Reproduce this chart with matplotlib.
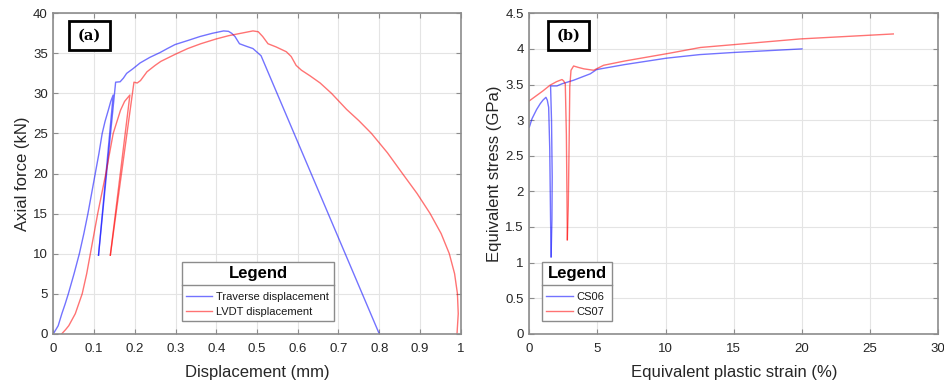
import matplotlib
matplotlib.use('Agg')
import matplotlib.pyplot as plt
from matplotlib.lines import Line2D

plt.rcParams['font.family'] = ['Liberation Sans', 'DejaVu Sans']

# (a) axial force vs displacement
trav_x = [0.0, 0.005, 0.012, 0.021, 0.029, 0.037, 0.051, 0.064, 0.075, 0.085, 0.094,
          0.103, 0.112, 0.120, 0.127, 0.135, 0.141, 0.147,
          0.111,
          0.153, 0.164, 0.172, 0.180, 0.196, 0.213, 0.237, 0.262, 0.28, 0.299, 0.33,
          0.36, 0.39, 0.418, 0.43, 0.438, 0.446, 0.457, 0.473, 0.49, 0.51, 0.8]
trav_f = [0.0, 0.4, 1.0, 2.5, 3.7, 5.0, 7.5, 10.0, 12.5, 15.0, 17.5,
          20.0, 22.5, 25.0, 26.5, 27.9, 29.0, 29.8,
          9.8,
          31.4, 31.45, 31.9, 32.5, 33.1, 33.8, 34.5, 35.1, 35.6, 36.1, 36.6,
          37.1, 37.5, 37.8, 37.75, 37.5, 37.1, 36.2, 35.9, 35.6, 34.7, 0.0]
trav_split = 18

lvdt_x = [0.021, 0.03, 0.038, 0.054, 0.071, 0.082, 0.091, 0.100, 0.109, 0.119,
          0.129, 0.138, 0.147, 0.165, 0.175, 0.188,
          0.14,
          0.198, 0.206, 0.214, 0.23, 0.25, 0.264, 0.3, 0.33, 0.362, 0.4, 0.43,
          0.46, 0.49, 0.503, 0.514, 0.527, 0.547, 0.572, 0.584, 0.596, 0.609,
          0.63, 0.655, 0.683, 0.72, 0.75, 0.781, 0.82, 0.857, 0.893, 0.925,
          0.952, 0.972, 0.985, 0.992, 0.994, 0.991]
lvdt_f = [0.0, 0.5, 1.0, 2.5, 5.0, 7.5, 10.0, 12.5, 15.0, 17.5,
          20.0, 22.5, 25.0, 27.9, 29.0, 29.8,
          9.8,
          31.4, 31.3, 31.6, 32.7, 33.5, 34.0, 34.9, 35.6, 36.2, 36.8, 37.2,
          37.5, 37.8, 37.7, 37.1, 36.2, 35.8, 35.2, 34.6, 33.5, 32.9,
          32.2, 31.3, 30.0, 28.0, 26.6, 25.0, 22.6, 20.0, 17.5, 15.0,
          12.5, 10.0, 7.5, 5.0, 2.5, 0.0]
lvdt_split = 16

# (b) equivalent stress vs equivalent plastic strain
cs06_x = [0.0, 0.2, 0.54, 0.8, 1.0, 1.22, 1.32, 1.42, 1.5, 1.56, 1.6,
          1.66, 1.68, 1.63, 1.56,
          1.8, 2.03, 2.4, 3.25, 4.47, 4.94, 7.0, 10.07, 12.5, 15.0, 20.0]
cs06_s = [2.9, 3.02, 3.15, 3.23, 3.28, 3.32, 3.28, 3.18, 2.6, 1.6, 1.08,
          1.6, 2.2, 3.0, 3.48,
          3.48, 3.48, 3.51, 3.56, 3.65, 3.71, 3.78, 3.87, 3.92, 3.95, 4.0]
cs06_split = 10

cs07_x = [0.0, 0.5, 1.0, 1.52, 2.0, 2.4, 2.52, 2.64, 2.72, 2.76, 2.79,
          2.86, 2.93, 2.97, 3.06, 3.25, 3.6, 4.0, 4.72, 5.45, 7.0, 10.3,
          12.55, 15.0, 19.87, 26.7]
cs07_s = [3.27, 3.34, 3.41, 3.49, 3.54, 3.57, 3.55, 3.51, 2.8, 2.0, 1.32,
          1.8, 2.8, 3.47, 3.70, 3.76, 3.74, 3.72, 3.70, 3.77, 3.83, 3.94,
          4.02, 4.06, 4.14, 4.21]
cs07_split = 10

blue = (0, 0, 1, 0.55)
red = (1, 0, 0, 0.55)
spine_c = '#8c8c8c'
text_c = '#262626'

fig = plt.figure(figsize=(9.45, 3.8), dpi=100)
ax1 = fig.add_axes([0.0564, 0.1218, 0.4311, 0.8432])
ax2 = fig.add_axes([0.5601, 0.1218, 0.4328, 0.8432])


def style(ax):
    ax.grid(True, color='#e4e4e4', linewidth=0.8)
    ax.set_axisbelow(True)
    for s in ax.spines.values():
        s.set_color(spine_c)
        s.set_linewidth(1.2)
    ax.tick_params(direction='in', length=3.5, width=0.8, color=spine_c,
                   labelcolor=text_c, labelsize=9.5, top=True, right=True)
    ax.tick_params(axis='x', pad=7)
    ax.tick_params(axis='y', pad=4)


def legend(ax, handles, labels, box):
    leg = ax.legend(handles, labels, loc='lower left', bbox_to_anchor=box,
                    mode='expand', borderaxespad=0, title='Legend',
                    title_fontproperties={'weight': 'bold', 'size': 12},
                    fontsize=8, frameon=True, fancybox=False, framealpha=1,
                    edgecolor=spine_c, handlelength=2.4, handletextpad=0.3,
                    labelspacing=0.45, borderpad=0.35)
    # more room between the title and the entries
    leg._legend_box.sep = 8
    leg.get_frame().set_linewidth(1.0)
    for t in leg.get_texts():
        t.set_color('#1a1a1a')
    return leg


def panel_tag(ax, txt, x0, x1, y0, y1):
    ax.add_patch(plt.Rectangle((x0, y0), x1 - x0, y1 - y0, transform=ax.transAxes,
                               fill=True, facecolor='white', edgecolor='black',
                               linewidth=2.0, zorder=5))
    ax.text((x0 + x1) / 2, (y0 + y1) / 2, txt, transform=ax.transAxes,
            ha='center', va='center', fontsize=10.5, fontweight='bold',
            family='DejaVu Serif', zorder=6)


# panel (a)
ax1.plot(trav_x[:trav_split + 1], trav_f[:trav_split + 1], color=blue, lw=1.0)
ax1.plot(trav_x[trav_split:], trav_f[trav_split:], color=blue, lw=1.0)
ax1.plot(lvdt_x[:lvdt_split + 1], lvdt_f[:lvdt_split + 1], color=red, lw=1.0)
ax1.plot(lvdt_x[lvdt_split:], lvdt_f[lvdt_split:], color=red, lw=1.0)
ax1.set_xlim(0, 1)
ax1.set_ylim(0, 40)
ax1.set_xticks([0, 0.1, 0.2, 0.3, 0.4, 0.5, 0.6, 0.7, 0.8, 0.9, 1])
ax1.set_xticklabels(['0', '0.1', '0.2', '0.3', '0.4', '0.5', '0.6', '0.7', '0.8', '0.9', '1'])
ax1.set_yticks(range(0, 41, 5))
style(ax1)
ax1.set_xlabel('Displacement (mm)', fontsize=12, color=text_c, labelpad=7)
ax1.set_ylabel('Axial force (kN)', fontsize=12, color=text_c, labelpad=2)
panel_tag(ax1, '(a)', 0.0377, 0.140, 0.884, 0.976)
leg1 = legend(ax1, [Line2D([], [], color=blue, lw=1.0), Line2D([], [], color=red, lw=1.0)],
              ['Traverse displacement', 'LVDT displacement'],
              (0.315, 0.0406, 0.375, 0.19))

# panel (b)
ax2.plot(cs06_x[:cs06_split + 1], cs06_s[:cs06_split + 1], color=blue, lw=1.0)
ax2.plot(cs06_x[cs06_split:], cs06_s[cs06_split:], color=blue, lw=1.0)
ax2.plot(cs07_x[:cs07_split + 1], cs07_s[:cs07_split + 1], color=red, lw=1.0)
ax2.plot(cs07_x[cs07_split:], cs07_s[cs07_split:], color=red, lw=1.0)
ax2.set_xlim(0, 30)
ax2.set_ylim(0, 4.5)
ax2.set_xticks(range(0, 31, 5))
ax2.set_yticks([0, 0.5, 1, 1.5, 2, 2.5, 3, 3.5, 4, 4.5])
ax2.set_yticklabels(['0', '0.5', '1', '1.5', '2', '2.5', '3', '3.5', '4', '4.5'])
style(ax2)
ax2.set_xlabel('Equivalent plastic strain (%)', fontsize=12, color=text_c, labelpad=7)
ax2.set_ylabel('Equivalent stress (GPa)', fontsize=12, color=text_c, labelpad=2)
panel_tag(ax2, '(b)', 0.0447, 0.145, 0.884, 0.976)
leg2 = legend(ax2, [Line2D([], [], color=blue, lw=1.0), Line2D([], [], color=red, lw=1.0)],
              ['CS06', 'CS07'],
              (0.0318, 0.0405, 0.170, 0.19))

# separator line under the legend titles
fig.canvas.draw()
inv = fig.transFigure.inverted()
for leg in (leg1, leg2):
    fb = leg.get_frame().get_window_extent()
    tb = leg.get_title().get_window_extent()
    y = tb.y0 - 4
    (fx0, fy), (fx1, _) = inv.transform([(fb.x0, y), (fb.x1, y)])
    fig.add_artist(Line2D([fx0, fx1], [fy, fy], transform=fig.transFigure,
                          color=spine_c, lw=1.0, zorder=10))

fig.savefig('out.png', dpi=100)
